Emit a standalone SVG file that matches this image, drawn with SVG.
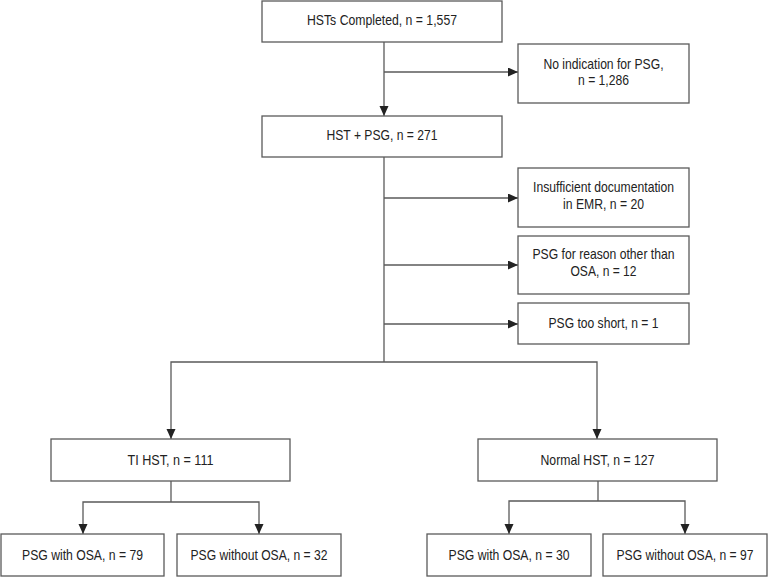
<svg xmlns="http://www.w3.org/2000/svg" width="768" height="577" viewBox="0 0 768 577">
<style>
  .box { fill: #ffffff; stroke: #5a5a5a; stroke-width: 1.3; }
  .lbl { font-family: "Liberation Sans", Arial, sans-serif; font-size: 15px; fill: #222222; text-anchor: middle; }
  .conn { fill: none; stroke: #5a5a5a; stroke-width: 1.3; }
</style>
<defs>
  <marker id="arr" markerUnits="userSpaceOnUse" markerWidth="12" markerHeight="10" refX="10" refY="4.5" orient="auto-start-reverse">
    <path d="M0,0 L10,4.5 L0,9 Z" fill="#222222"/>
  </marker>
</defs>
<rect x="0" y="0" width="768" height="577" fill="#ffffff"/>

<g id="connectors">
  <line class="conn" x1="384" y1="42" x2="384" y2="116" marker-end="url(#arr)"/>
  <line class="conn" x1="384" y1="72" x2="518" y2="72" marker-end="url(#arr)"/>
  <line class="conn" x1="384" y1="157" x2="384" y2="362"/>
  <line class="conn" x1="384" y1="198" x2="518" y2="198" marker-end="url(#arr)"/>
  <line class="conn" x1="384" y1="265" x2="518" y2="265" marker-end="url(#arr)"/>
  <line class="conn" x1="384" y1="324" x2="518" y2="324" marker-end="url(#arr)"/>
  <polyline class="conn" points="171,439 171,362 597,362 597,439" marker-start="url(#arr)" marker-end="url(#arr)"/>
  <line class="conn" x1="171" y1="481" x2="171" y2="502"/>
  <polyline class="conn" points="83,534 83,502 259,502 259,534" marker-start="url(#arr)" marker-end="url(#arr)"/>
  <line class="conn" x1="598" y1="481" x2="598" y2="501"/>
  <polyline class="conn" points="509,534 509,501 685,501 685,534" marker-start="url(#arr)" marker-end="url(#arr)"/>
</g>

<g id="n-hsts-completed">
  <rect class="box" x="262" y="1" width="240" height="41"/>
  <text class="lbl" x="382" y="25" textLength="150" lengthAdjust="spacingAndGlyphs">HSTs Completed, n = 1,557</text>
</g>
<g id="n-no-indication">
  <rect class="box" x="518" y="44" width="171" height="59"/>
  <text class="lbl" x="603.5" y="69" textLength="120" lengthAdjust="spacingAndGlyphs">No indication for PSG,</text>
  <text class="lbl" x="603.5" y="85" textLength="51" lengthAdjust="spacingAndGlyphs">n = 1,286</text>
</g>
<g id="n-hst-psg">
  <rect class="box" x="262" y="116" width="240" height="41"/>
  <text class="lbl" x="382" y="140" textLength="111" lengthAdjust="spacingAndGlyphs">HST + PSG, n = 271</text>
</g>
<g id="n-insufficient">
  <rect class="box" x="518" y="168" width="171" height="59"/>
  <text class="lbl" x="603.5" y="192" textLength="141" lengthAdjust="spacingAndGlyphs">Insufficient documentation</text>
  <text class="lbl" x="603.5" y="209" textLength="81" lengthAdjust="spacingAndGlyphs">in EMR, n = 20</text>
</g>
<g id="n-other-reason">
  <rect class="box" x="518" y="236" width="171" height="58"/>
  <text class="lbl" x="603.5" y="259" textLength="142" lengthAdjust="spacingAndGlyphs">PSG for reason other than</text>
  <text class="lbl" x="603.5" y="276" textLength="66" lengthAdjust="spacingAndGlyphs">OSA, n = 12</text>
</g>
<g id="n-too-short">
  <rect class="box" x="518" y="303" width="171" height="41"/>
  <text class="lbl" x="603.5" y="328" textLength="110" lengthAdjust="spacingAndGlyphs">PSG too short, n = 1</text>
</g>
<g id="n-ti-hst">
  <rect class="box" x="51" y="439" width="239" height="42"/>
  <text class="lbl" x="170.5" y="465" textLength="86" lengthAdjust="spacingAndGlyphs">TI HST, n = 111</text>
</g>
<g id="n-normal-hst">
  <rect class="box" x="478" y="439" width="239" height="42"/>
  <text class="lbl" x="597.5" y="465" textLength="114" lengthAdjust="spacingAndGlyphs">Normal HST, n = 127</text>
</g>
<g id="n-ti-with-osa">
  <rect class="box" x="1" y="534" width="163" height="42"/>
  <text class="lbl" x="82.5" y="560" textLength="121" lengthAdjust="spacingAndGlyphs">PSG with OSA, n = 79</text>
</g>
<g id="n-ti-without-osa">
  <rect class="box" x="177" y="534" width="164" height="42"/>
  <text class="lbl" x="259" y="560" textLength="137" lengthAdjust="spacingAndGlyphs">PSG without OSA, n = 32</text>
</g>
<g id="n-normal-with-osa">
  <rect class="box" x="427" y="534" width="164" height="42"/>
  <text class="lbl" x="509" y="560" textLength="121" lengthAdjust="spacingAndGlyphs">PSG with OSA, n = 30</text>
</g>
<g id="n-normal-without-osa">
  <rect class="box" x="603" y="534" width="164" height="42"/>
  <text class="lbl" x="685" y="560" textLength="137" lengthAdjust="spacingAndGlyphs">PSG without OSA, n = 97</text>
</g>
</svg>
